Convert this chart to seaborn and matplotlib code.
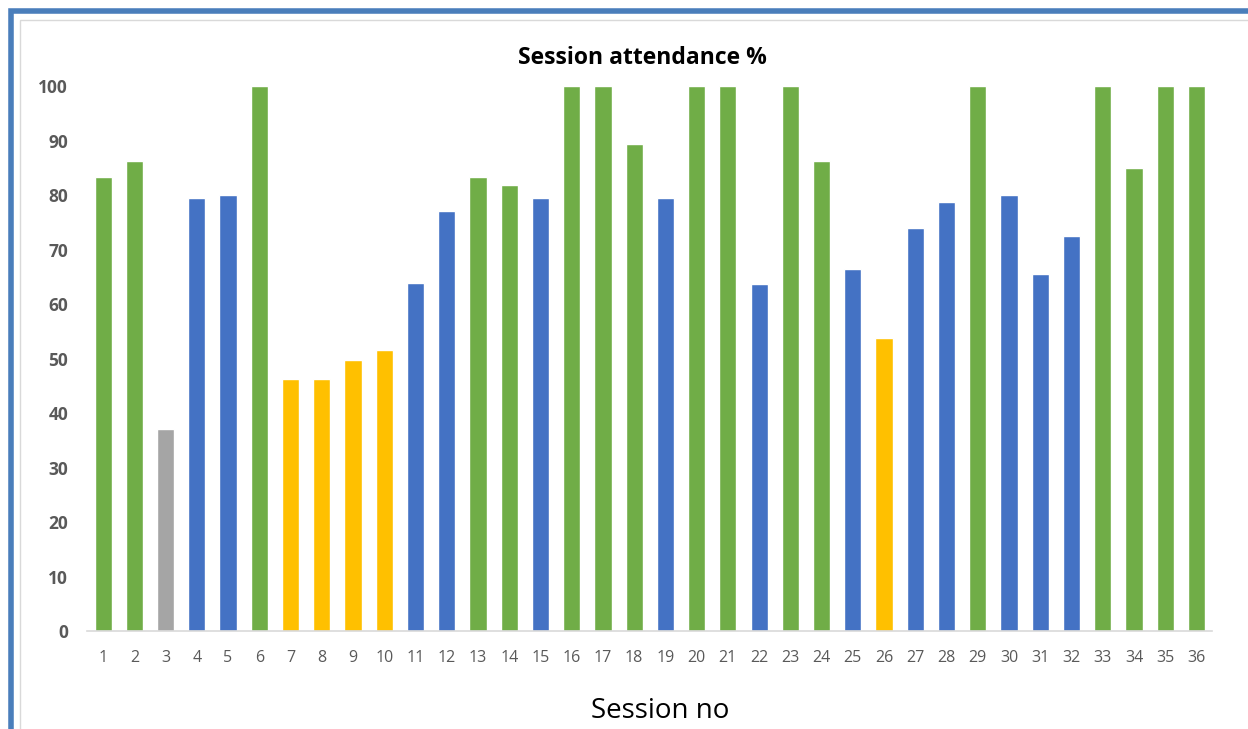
import pandas as pd
import numpy as np
import matplotlib
matplotlib.use('Agg')
import matplotlib.pyplot as plt
import seaborn as sns
from matplotlib.patches import Rectangle

# Attendance per session
sessions = [str(i) for i in range(1, 37)]
attendance = [83.3, 86.2, 37.0, 79.5, 80.0, 100, 46.3, 46.3, 49.8, 51.6,
              63.8, 77.0, 83.3, 81.8, 79.4, 100, 100, 89.3, 79.5, 100,
              100, 63.6, 100, 86.2, 66.5, 53.8, 73.9, 78.8, 100, 80.0,
              65.6, 72.4, 100, 84.9, 100, 100]
# colour band of each bar
band = ['high', 'high', 'low', 'mid', 'mid', 'high', 'warn', 'warn', 'warn', 'warn',
        'mid', 'mid', 'high', 'high', 'mid', 'high', 'high', 'high', 'mid', 'high',
        'high', 'mid', 'high', 'high', 'mid', 'warn', 'mid', 'mid', 'high', 'mid',
        'mid', 'mid', 'high', 'high', 'high', 'high']
band_colors = {'high': '#70AD47', 'mid': '#4472C4', 'warn': '#FFC000', 'low': '#A5A5A5'}

df = pd.DataFrame({'session': sessions, 'attendance': attendance, 'band': band})

sns.set_style('white')
plt.rcParams['font.family'] = ['Open Sans', 'DejaVu Sans']

fig = plt.figure(figsize=(12.48, 7.29), dpi=100)
ax = fig.add_axes([0.0701, 0.1344, 0.9011, 0.7476])

sns.barplot(data=df, x='session', y='attendance', hue='band', palette=band_colors,
            order=sessions, dodge=False, width=0.55, saturation=1, legend=False, ax=ax)

ax.set_ylim(0, 100)
ax.set_xlim(-0.5, 35.5)
ax.set_yticks(np.arange(0, 101, 10))
ax.tick_params(axis='y', labelsize=12.5, colors='#595959', length=0, pad=14)
ax.tick_params(axis='x', labelsize=11.5, colors='#595959', length=0, pad=14)
for lbl in ax.get_yticklabels():
    lbl.set_fontweight('bold')

for side in ['top', 'right', 'left']:
    ax.spines[side].set_visible(False)
ax.spines['bottom'].set_color('#D9D9D9')
ax.spines['bottom'].set_linewidth(1.2)

ax.set_ylabel('')
ax.set_xlabel('Session no', fontsize=20, color='black', labelpad=22)
ax.xaxis.label.set_x(0.509)
fig.text(0.515, 0.92, 'Session attendance %', ha='center', va='center',
         fontsize=16.5, fontweight='bold', color='black')

# outer blue frame and inner grey border (cropped on right and bottom)
fig.patches.append(Rectangle((10.5 / 1248, -0.1), 1.2, 1 - 11 / 729 + 0.1,
                             transform=fig.transFigure, fill=False,
                             edgecolor='#4A7EBB', linewidth=4))
fig.patches.append(Rectangle((19.5 / 1248, -0.1), 1.2, 1 - 20 / 729 + 0.1,
                             transform=fig.transFigure, fill=False,
                             edgecolor='#D9D9D9', linewidth=1))

fig.savefig('out.png', dpi=100)
